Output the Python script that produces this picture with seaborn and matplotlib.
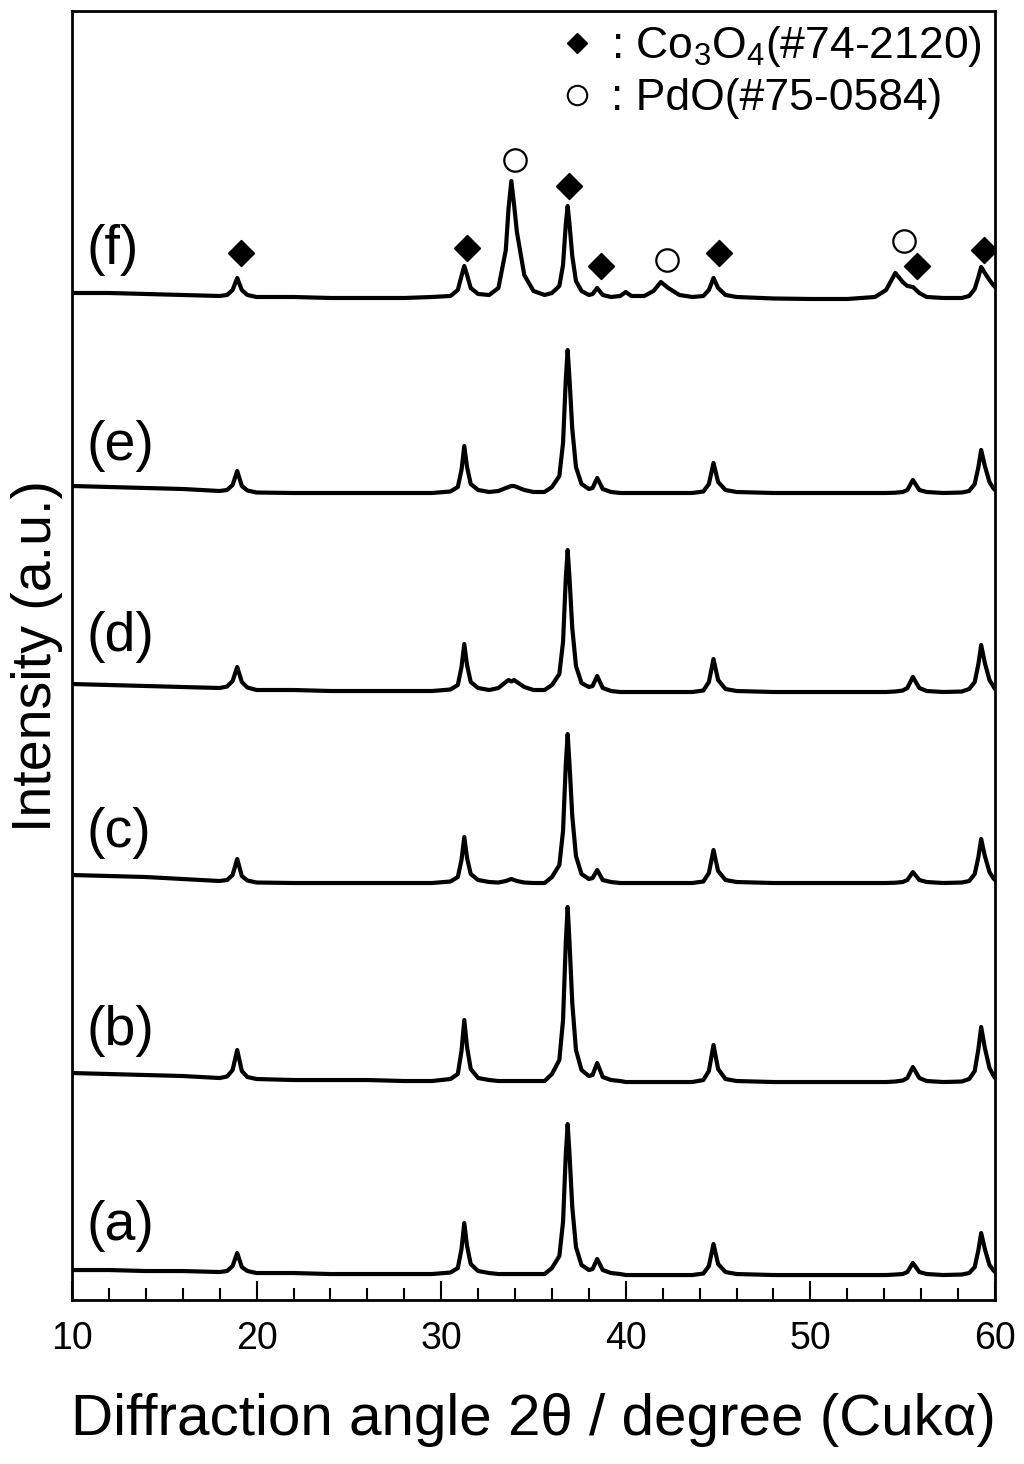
import numpy as np
import pandas as pd
import matplotlib
matplotlib.use("Agg")
import matplotlib.pyplot as plt
import seaborn as sns
from matplotlib.lines import Line2D
from matplotlib.ticker import MultipleLocator

# 2theta sampling points (degree), shared by all patterns
two_theta = [10, 12, 14, 16, 18,
             18.4, 18.7, 18.95, 19.2, 19.5, 20,
             22, 24, 26, 28, 29.5,
             30.5, 30.9, 31.1, 31.25, 31.4, 31.6, 32.0, 32.6,
             33.1, 33.5, 33.65, 33.8, 33.95, 34.1, 34.5, 35.0, 35.6,
             36.0, 36.4, 36.6, 36.75, 36.85, 36.95, 37.1, 37.3, 37.6, 38.0,
             38.2, 38.45, 38.75, 39.2, 39.7, 40.0, 40.3,
             41.0, 41.5, 41.9, 42.3, 42.9, 43.6,
             44.2, 44.5, 44.75, 45.0, 45.4, 46.0,
             48, 50, 52, 53.5, 54.1, 54.6, 55.0, 55.25, 55.55, 55.9, 56.3,
             57.2, 58.2, 58.6, 58.9, 59.1, 59.25, 59.45, 59.7, 59.9, 60.0]

# intensities (a.u.)
pattern_a = [5, 5, 4, 4, 3,
             4, 9, 22, 8, 4, 2,
             2, 1, 1, 1, 1,
             2.5, 7, 26, 52, 29, 11, 4, 2,
             1, 1, 1, 1, 1, 1, 1, 1, 1,
             7, 19, 53, 121, 151, 121, 68, 28, 10, 5,
             6, 16, 5, 2, 1, 0, 0,
             0, 0, 0, 0, 0, 0,
             1.5, 9, 31, 11, 3, 1,
             0, 0, 0, 0, 0, 0.5, 1, 3, 12, 3, 1,
             0, 0.5, 2, 8, 25, 42, 26, 10, 5, 3]
pattern_b = [9, 8, 7, 6, 4,
             5.5, 12, 32, 11, 5, 3,
             2, 2, 2, 1, 1,
             3, 8, 31, 62, 35, 13, 4, 2,
             1, 1, 1, 1, 1, 1, 1, 1, 1,
             8, 22, 62, 140, 175, 140, 79, 32, 12, 6,
             7, 19, 5, 2, 1, 0, 0,
             0, 0, 0, 0, 0, 0,
             2, 11, 37, 13, 3, 1,
             0, 0, 0, 0, 0, 0.5, 1.5, 4, 15, 4, 1,
             0, 0.5, 3, 11, 33, 55, 34, 14, 7, 4]
pattern_c = [8, 7, 6, 4, 2,
             3, 8, 24, 7, 2.5, 0.5,
             0, 0, 0, 0, 0,
             1.5, 6, 23, 46, 25, 9, 3, 1,
             0.5, 2, 3, 4, 3, 2, 0.5, 0, 0,
             6, 18, 52, 119, 149, 119, 67, 27, 9, 4,
             5, 13, 3, 1, 0, 0, 0,
             0, 0, 0, 0, 0, 0,
             1.5, 10, 33, 12, 3, 1,
             0, 0, 0, 0, 0, 0.3, 1, 3, 11, 3, 1,
             0, 0.5, 2, 9, 26, 44, 27, 11, 5, 3]
pattern_d = [8, 7, 6, 5, 4,
             5.5, 11, 25, 10, 4.5, 2,
             2, 1, 1, 1, 1,
             2.5, 7, 25, 48, 27, 10, 4, 2,
             4, 10, 12, 10.5, 12, 10, 5, 2, 2,
             7, 18, 50, 114, 142, 114, 64, 26, 9, 5,
             6, 16, 4, 1, 0, 0, 0,
             0, 0, 0, 0, 0, 0,
             1.5, 10, 33, 12, 3, 1,
             0, 0, 0, 0, 0, 0.5, 1.5, 4, 15, 4, 1,
             0, 0.5, 3, 10, 28, 47, 29, 12, 6, 3]
pattern_e = [7, 6, 5, 4, 2,
             3, 8, 22, 7, 2.5, 0.5,
             0, 0, 0, 0, 0,
             1.5, 6, 23, 47, 26, 9, 3, 1,
             2, 5, 6, 7, 7, 6, 3, 1, 1,
             6, 17, 50, 114, 143, 114, 64, 26, 9, 4,
             5, 15, 4, 1, 0, 0, 0,
             0, 0, 0, 0, 0, 0,
             1.5, 9, 30, 11, 3, 1,
             0, 0, 0, 0, 0, 0.3, 1, 3, 13, 3, 1,
             0, 0.5, 2, 9, 26, 43, 27, 11, 5, 3]
pattern_f = [7, 7, 6, 5, 4,
             5, 10, 22, 10, 5, 3,
             3, 2, 2, 2, 3,
             4, 10, 24, 34, 25, 12, 6, 5,
             12, 50, 92, 119, 95, 68, 25, 9, 5,
             7, 14, 35, 76, 94, 76, 44, 19, 9, 5,
             6, 12, 5, 3, 4, 8, 4,
             4, 9, 18, 12, 5, 3,
             4, 10, 22, 12, 5, 3,
             1.5, 1, 1, 3, 10, 27, 18, 14, 13, 7, 3,
             2, 2, 4, 11, 23, 33, 27, 20, 15, 13]

sample_labels = ["(a)", "(b)", "(c)", "(d)", "(e)", "(f)"]
patterns = [pattern_a, pattern_b, pattern_c, pattern_d, pattern_e, pattern_f]
offsets = [25, 218, 417, 608, 807, 1000]
label_y = [74, 269, 467, 663, 854, 1050]

# phase marks above pattern (f)
co3o4_x = [19.15, 31.4, 36.92, 38.66, 45.05, 55.77, 59.4]
co3o4_y = [1047, 1052, 1114, 1034, 1047, 1034, 1050]
pdo_x = [34.0, 42.23, 55.07]
pdo_y = [1140, 1040, 1059]

sns.set_style("ticks")
plt.rcParams["font.family"] = ["Liberation Sans", "DejaVu Sans"]
plt.rcParams.update({"text.color": "black", "axes.labelcolor": "black",
                     "xtick.color": "black", "axes.edgecolor": "black"})

df = pd.concat([
    pd.DataFrame({"two_theta": two_theta,
                  "intensity": np.array(p, dtype=float) + off,
                  "sample": lab})
    for lab, p, off in zip(sample_labels, patterns, offsets)
])

fig, ax = plt.subplots(figsize=(10.24, 14.64), dpi=100)
fig.subplots_adjust(left=0.0703, right=0.9717, bottom=0.112, top=0.9925)

sns.lineplot(data=df, x="two_theta", y="intensity", hue="sample",
             palette=["black"] * 6, estimator=None, legend=False,
             linewidth=3, ax=ax)

sns.scatterplot(x=co3o4_x, y=co3o4_y, marker="D", s=175, color="black",
                edgecolor="black", ax=ax, zorder=4)
sns.scatterplot(x=pdo_x, y=pdo_y, marker="o", s=260, color="white",
                edgecolor="black", linewidth=1.6, ax=ax, zorder=4)

for lab, y in zip(sample_labels, label_y):
    ax.text(10.8, y, lab, fontsize=40, va="center", ha="left")

handles = [Line2D([], [], marker="D", ls="none", color="black", ms=10.5),
           Line2D([], [], marker="o", ls="none", mfc="white", mec="black",
                  mew=1.5, ms=14)]
names = [r": Co$\mathregular{_3}$O$\mathregular{_4}$(#74-2120)",
         ": PdO(#75-0584)"]
ax.legend(handles, names, loc="upper right", frameon=False, fontsize=32,
          handlelength=0.6, handletextpad=0.45, borderaxespad=0.1,
          labelspacing=0.2, borderpad=0.2)

ax.set_xlim(10, 60)
ax.set_ylim(0, 1289)
ax.xaxis.set_major_locator(MultipleLocator(10))
ax.xaxis.set_minor_locator(MultipleLocator(2))
ax.tick_params(axis="x", which="major", direction="in", length=14, width=1.5,
               labelsize=27, pad=15)
ax.tick_params(axis="x", which="minor", direction="in", length=8.5, width=1.5)
ax.tick_params(axis="y", left=False, labelleft=False)
for sp in ax.spines.values():
    sp.set_linewidth(2)

ax.set_xlabel("Diffraction angle 2θ / degree (Cukα)", fontsize=42, labelpad=26)
ax.set_ylabel("Intensity (a.u.)", fontsize=40)
ax.yaxis.set_label_coords(-0.0098, 0.5)

fig.savefig("out.png", dpi=100)
